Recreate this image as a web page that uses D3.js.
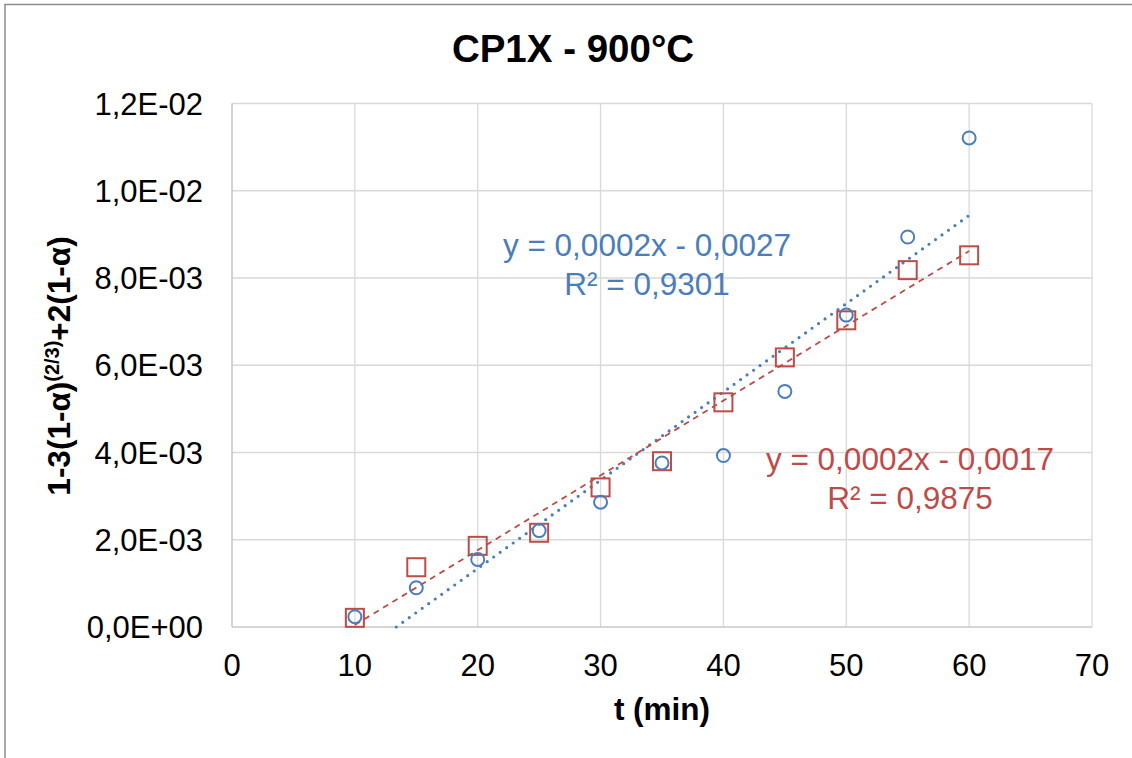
<!DOCTYPE html>
<html>
<head>
  <meta charset="utf-8">
  <script src="https://d3js.org/d3.v7.min.js"></script>
  <style>
    body { margin: 0; background: #fff; }
    text { font-family: "Liberation Sans", Arial, sans-serif; }
  </style>
</head>
<body>
<div id="chart"></div>

<script>
  // Data
  const times = [10, 15, 20, 25, 30, 35, 40, 45, 50, 55, 60];
  const circleSeries = [0.000236, 0.0009, 0.00155, 0.00221, 0.00286, 0.00376, 0.00393, 0.0054, 0.00715, 0.00894, 0.01121];
  const squareSeries = [0.00021, 0.00137, 0.00186, 0.00216, 0.0032, 0.0038, 0.00515, 0.00618, 0.00703, 0.00818, 0.00852];
  const xTicks = [0, 10, 20, 30, 40, 50, 60, 70];
  const yTicks = [0, 0.002, 0.004, 0.006, 0.008, 0.010, 0.012];
  const circleLabel = ["y = 0,0002x - 0,0027", "R² = 0,9301"];
  const squareLabel = ["y = 0,0002x - 0,0017", "R² = 0,9875"];

  const width = 1132, height = 758;
  const blue = "#4a7ebb", red = "#be4b48";

  const svg = d3.select("#chart").append("svg")
      .attr("width", width)
      .attr("height", height);

  // outer chart border (only top and left visible in the picture)
  svg.append("rect")
      .attr("x", 5).attr("y", 4.5)
      .attr("width", 1200).attr("height", 900)
      .attr("fill", "none")
      .attr("stroke", "#8c8c8c")
      .attr("stroke-width", 1.5);

  const x = d3.scaleLinear().domain([0, 70]).range([232, 1092]);
  const y = d3.scaleLinear().domain([0, 0.012]).range([627, 103.5]);

  // Excel style "1,2E-02"
  function sci(v) {
    if (v === 0) return "0,0E+00";
    const e = Math.floor(Math.log10(Math.abs(v)) + 1e-9);
    const m = v / Math.pow(10, e);
    const sign = e < 0 ? "-" : "+";
    return m.toFixed(1).replace(".", ",") + "E" + sign + String(Math.abs(e)).padStart(2, "0");
  }

  // gridlines
  svg.append("g").selectAll("line.h")
      .data(yTicks.slice(1))
      .join("line")
      .attr("x1", x(0)).attr("x2", x(70))
      .attr("y1", d => y(d)).attr("y2", d => y(d))
      .attr("stroke", "#d9d9d9").attr("stroke-width", 1.3);
  svg.append("g").selectAll("line.v")
      .data(xTicks.slice(1))
      .join("line")
      .attr("x1", d => x(d)).attr("x2", d => x(d))
      .attr("y1", y(0)).attr("y2", y(0.012))
      .attr("stroke", "#d9d9d9").attr("stroke-width", 1.3);

  // axis lines
  svg.append("line")
      .attr("x1", x(0)).attr("x2", x(0)).attr("y1", y(0)).attr("y2", y(0.012))
      .attr("stroke", "#c8c8c8").attr("stroke-width", 1.6);
  svg.append("line")
      .attr("x1", x(0)).attr("x2", x(70)).attr("y1", y(0)).attr("y2", y(0))
      .attr("stroke", "#c8c8c8").attr("stroke-width", 1.6);

  // tick labels
  svg.append("g").selectAll("text")
      .data(xTicks)
      .join("text")
      .attr("x", d => x(d)).attr("y", 676)
      .attr("text-anchor", "middle")
      .attr("font-size", 31)
      .attr("fill", "#000")
      .text(d => d);
  svg.append("g").selectAll("text")
      .data(yTicks)
      .join("text")
      .attr("x", 203).attr("y", d => y(d) + 11)
      .attr("text-anchor", "end")
      .attr("font-size", 31)
      .attr("fill", "#000")
      .text(d => sci(d));

  // titles
  svg.append("text")
      .attr("x", 573).attr("y", 62)
      .attr("text-anchor", "middle")
      .attr("font-size", 38.5).attr("font-weight", "bold")
      .text("CP1X - 900°C");
  svg.append("text")
      .attr("x", 662).attr("y", 720)
      .attr("text-anchor", "middle")
      .attr("font-size", 31.5).attr("font-weight", "bold")
      .text("t (min)");

  const yTitle = svg.append("text")
      .attr("transform", "translate(70,366) rotate(-90)")
      .attr("text-anchor", "middle")
      .attr("font-size", 31.5).attr("font-weight", "bold");
  yTitle.append("tspan").text("1-3(1-α)");
  yTitle.append("tspan").attr("font-size", 20).attr("dy", -11).text("(2/3)");
  yTitle.append("tspan").attr("dy", 11).text("+2(1-α)");

  // linear least squares trendline
  function fit(xs, ys) {
    const mx = d3.mean(xs), my = d3.mean(ys);
    let num = 0, den = 0;
    xs.forEach((v, i) => { num += (v - mx) * (ys[i] - my); den += (v - mx) * (v - mx); });
    const b = num / den;
    return { slope: b, intercept: my - b * mx };
  }

  const fb = fit(times, circleSeries);
  const fr = fit(times, squareSeries);

  // blue dotted trend, clipped at y = 0
  const bx0 = Math.max(times[0], -fb.intercept / fb.slope);
  const bx1 = times[times.length - 1];
  svg.append("line")
      .attr("x1", x(bx0)).attr("y1", y(fb.slope * bx0 + fb.intercept))
      .attr("x2", x(bx1)).attr("y2", y(fb.slope * bx1 + fb.intercept))
      .attr("stroke", blue).attr("stroke-width", 3.2)
      .attr("stroke-linecap", "round")
      .attr("stroke-dasharray", "0 8");

  const rx0 = times[0], rx1 = times[times.length - 1];
  svg.append("line")
      .attr("x1", x(rx0)).attr("y1", y(fr.slope * rx0 + fr.intercept))
      .attr("x2", x(rx1)).attr("y2", y(fr.slope * rx1 + fr.intercept))
      .attr("stroke", red).attr("stroke-width", 1.8)
      .attr("stroke-dasharray", "6 5");

  // markers
  svg.append("g").selectAll("rect")
      .data(times)
      .join("rect")
      .attr("x", (d, i) => x(d) - 9)
      .attr("y", (d, i) => y(squareSeries[i]) - 9)
      .attr("width", 18).attr("height", 18)
      .attr("fill", "none")
      .attr("stroke", red).attr("stroke-width", 2);

  svg.append("g").selectAll("circle")
      .data(times)
      .join("circle")
      .attr("cx", d => x(d))
      .attr("cy", (d, i) => y(circleSeries[i]))
      .attr("r", 6.5)
      .attr("fill", "none")
      .attr("stroke", blue).attr("stroke-width", 2);

  // trendline labels
  function eqLabel(lines, cx, by, color) {
    svg.append("g").selectAll("text")
        .data(lines)
        .join("text")
        .attr("x", cx).attr("y", (d, i) => by + i * 39)
        .attr("text-anchor", "middle")
        .attr("font-size", 31.5)
        .attr("fill", color)
        .text(d => d);
  }
  eqLabel(circleLabel, 647, 256, blue);
  eqLabel(squareLabel, 910, 470, red);
</script>
</body>
</html>
